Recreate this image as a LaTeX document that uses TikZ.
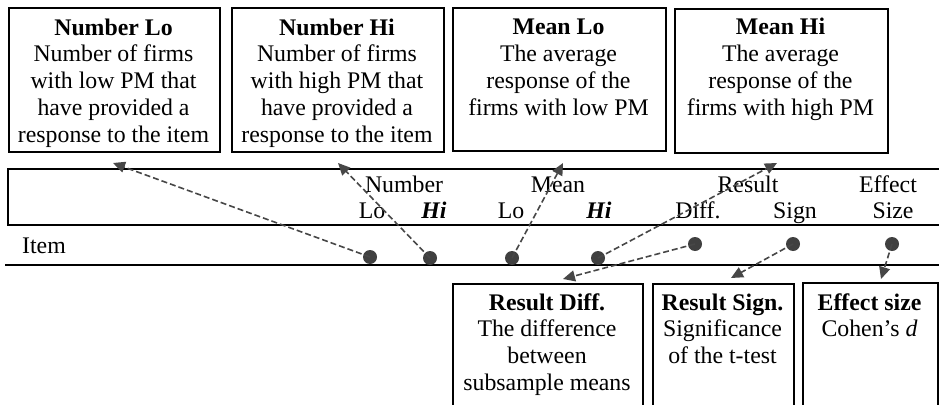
\documentclass[tikz,border=0pt]{standalone}
\usepackage{fontspec}
\setmainfont{Liberation Serif}
\usetikzlibrary{arrows.meta}
\begin{document}
\begin{tikzpicture}[x=1pt,y=-1pt,
  box/.style={draw=black,line width=1.6pt,inner sep=0pt,anchor=north west},
  txt/.style={align=center,inner sep=0pt,anchor=base,font=\fontsize{23.8}{26.8}\selectfont},
  hdr/.style={inner sep=0pt,anchor=base,font=\fontsize{23.8}{26.8}\selectfont},
  rule/.style={line width=1.6pt,black},
  dot/.style={circle,fill=black!75,inner sep=0pt,minimum size=14pt},
  conn/.style={draw=black!72,line width=1.6pt,dash pattern=on 6pt off 3pt,-{Triangle[length=12pt,width=11pt]}}]
\useasboundingbox (0,0) rectangle (939,404);
\clip (0,0) rectangle (939,404);
% top boxes
\node[box,minimum width=211pt,minimum height=144pt] (b1) at (8,7) {};
\node[box,minimum width=212pt,minimum height=144pt] (b2) at (231,7) {};
\node[box,minimum width=213pt,minimum height=143pt] (b3) at (452,7) {};
\node[box,minimum width=213pt,minimum height=144pt] (b4) at (674,8) {};
% anchor=base of a multi-line node is the baseline of its last line
\node[txt] (t1) at (113.5,142.2) {\textbf{Number Lo}\\Number of firms\\with low PM that\\have provided a\\response to the item};
\node[txt] (t2) at (337,142.2) {\textbf{Number Hi}\\Number of firms\\with high PM that\\have provided a\\response to the item};
\node[txt] (t3) at (558.5,115.4) {\textbf{Mean Lo}\\The average\\response of the\\firms with low PM};
\node[txt] (t4) at (780.5,115.4) {\textbf{Mean Hi}\\The average\\response of the\\firms with high PM};
% table
\coordinate (tl) at (8,169);
\coordinate (tr) at (939,169);
\coordinate (ml) at (8,225);
\coordinate (mr) at (939,225);
\coordinate (bl) at (5,265);
\coordinate (br) at (939,265);
\draw[rule] (tr) -- (tl) -- (ml) -- (mr);
\draw[rule] (bl) -- (br);
\node[hdr] (hn) at (404,192) {Number};
\node[hdr] (hnl) at (372,218) {Lo};
\node[hdr] (hnh) at (434,218) {\textbf{\textit{Hi}}};
\node[hdr] (hm) at (558,192) {Mean};
\node[hdr] (hml) at (511,218) {Lo};
\node[hdr] (hmh) at (599,218) {\textbf{\textit{Hi}}};
\node[hdr] (hr) at (748,192) {Result};
\node[hdr] (hrd) at (698,218) {Diff.};
\node[hdr] (hrs) at (795,218) {Sign};
\node[hdr] (he) at (888,192) {Effect};
\node[hdr] (hes) at (893,218) {Size};
\node[hdr,anchor=base west] (item) at (22,253) {Item};
% bottom boxes
\node[box,minimum width=190pt,minimum height=140pt] (b5) at (452,283) {};
\node[box,minimum width=141pt,minimum height=140pt] (b6) at (652,283) {};
\node[box,minimum width=135pt,minimum height=140pt] (b7) at (802,282) {};
\node[txt] (t5) at (547,390.4) {\textbf{Result Diff.}\\The difference\\between\\subsample means};
\node[txt] (t6) at (722.5,363.6) {\textbf{Result Sign.}\\Significance\\of the t-test};
\node[txt] (t7) at (869.5,336.8) {\textbf{Effect size}\\Cohen’s \textit{d}};
% arrow targets
\coordinate (a1) at (113,163);
\coordinate (a2) at (338,163);
\coordinate (a3) at (563,163);
\coordinate (a4) at (777,163);
\coordinate (a5) at (563,279);
\coordinate (a6) at (731,278);
\coordinate (a7) at (881,279);
% dots
\node[dot] (d1) at (370,257) {};
\node[dot] (d2) at (430,258) {};
\node[dot] (d3) at (512,258) {};
\node[dot] (d4) at (598,258) {};
\node[dot] (d5) at (695,244) {};
\node[dot] (d6) at (793,244) {};
\node[dot] (d7) at (892,244) {};
\draw[conn] (d1.center) -- (a1);
\draw[conn] (d2.center) -- (a2);
\draw[conn] (d3.center) -- (a3);
\draw[conn] (d4.center) -- (a4);
\draw[conn] (d5.center) -- (a5);
\draw[conn] (d6.center) -- (a6);
\draw[conn] (d7.center) -- (a7);
\end{tikzpicture}
\end{document}
